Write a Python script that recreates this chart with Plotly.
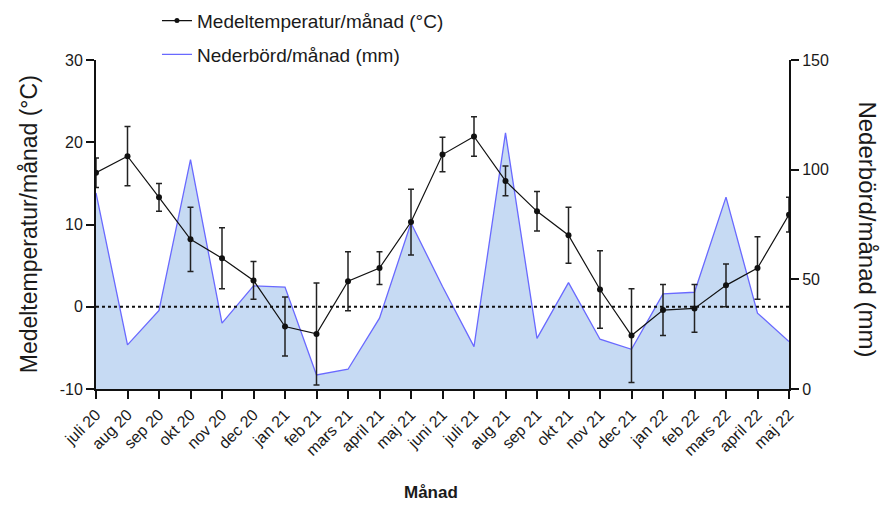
import plotly.graph_objects as go

months = ["juli 20", "aug 20", "sep 20", "okt 20", "nov 20", "dec 20", "jan 21", "feb 21",
          "mars 21", "april 21", "maj 21", "juni 21", "juli 21", "aug 21", "sep 21", "okt 21",
          "nov 21", "dec 21", "jan 22", "feb 22", "mars 22", "april 22", "maj 22"]

temp_mean = [16.3, 18.3, 13.3, 8.2, 5.9, 3.2, -2.4, -3.3,
             3.1, 4.7, 10.3, 18.5, 20.7, 15.3, 11.6, 8.7,
             2.1, -3.5, -0.4, -0.2, 2.6, 4.7, 11.2]

temp_err = [1.8, 3.6, 1.7, 3.9, 3.7, 2.3, 3.6, 6.2,
            3.6, 2.0, 4.0, 2.1, 2.4, 1.8, 2.4, 3.4,
            4.7, 5.7, 3.1, 2.9, 2.6, 3.8, 2.1]

precip = [89.4, 20.1, 35.8, 104.6, 30.0, 47.0, 46.5, 6.4,
          9.0, 32.3, 75.7, 46.7, 19.3, 116.8, 23.1, 48.5,
          22.7, 18.1, 43.4, 44.1, 87.5, 34.6, 21.6]

temp_ticks = [-10, 0, 10, 20, 30]
precip_ticks = [0, 50, 100, 150]

FONT = "Liberation Sans, Arial, sans-serif"
TXT = "#1a1a1a"

fig = go.Figure()

# precipitation area (primary y, right side) - drawn below
fig.add_trace(go.Scatter(
    x=months, y=precip, yaxis="y", mode="lines",
    line=dict(color="rgb(105,105,255)", width=1.3),
    fill="tozeroy", fillcolor="rgb(198,218,243)",
    showlegend=False, hoverinfo="skip",
))

# temperature line (overlay y2, left side) - drawn on top
fig.add_trace(go.Scatter(
    x=months, y=temp_mean, yaxis="y2", mode="lines+markers",
    line=dict(color="#111111", width=1.2),
    marker=dict(color="#111111", size=6),
    error_y=dict(type="data", array=temp_err, visible=True,
                 color="#222222", thickness=1.5, width=3),
    showlegend=False,
))

# legend entries
fig.add_trace(go.Scatter(
    x=[None], y=[None], yaxis="y2", mode="lines+markers",
    line=dict(color="#111111", width=1.2), marker=dict(color="#111111", size=5),
    name="Medeltemperatur/månad (°C)", legendgroup="a",
))
fig.add_trace(go.Scatter(
    x=[None], y=[None], yaxis="y", mode="lines",
    line=dict(color="rgb(105,105,255)", width=1.3),
    name="Nederbörd/månad (mm)", legendgroup="b",
))

# dotted zero line for temperature
fig.add_shape(type="line", xref="paper", x0=0, x1=1, yref="y2", y0=0, y1=0,
              line=dict(color="#111111", width=2, dash="dot"), layer="above")

axis_common = dict(showline=True, linecolor="#111111", linewidth=2,
                   ticks="outside", ticklen=8, tickwidth=2, tickcolor="#111111",
                   showgrid=False, zeroline=False, automargin=False,
                   tickfont=dict(family=FONT, size=16, color=TXT))

fig.update_layout(
    width=882, height=498,
    margin=dict(l=88, r=101, t=52, b=117, autoexpand=False),
    paper_bgcolor="white", plot_bgcolor="white",
    font=dict(family=FONT, color=TXT),
    xaxis=dict(type="category", categoryorder="array", categoryarray=months,
               range=[0, len(months) - 1], tickangle=-45, **axis_common),
    yaxis=dict(side="right", range=[0, 150], tickvals=precip_ticks,
               ticktext=[str(v) for v in precip_ticks], **axis_common),
    yaxis2=dict(side="left", overlaying="y", range=[-10, 30], tickvals=temp_ticks,
                ticktext=[str(v) for v in temp_ticks], **axis_common),
    legend=dict(x=0.088, y=1.177, xanchor="left", yanchor="top",
                font=dict(family=FONT, size=19, color=TXT),
                traceorder="grouped", tracegroupgap=6, bgcolor="rgba(0,0,0,0)"),
    showlegend=True,
    annotations=[
        dict(text="Medeltemperatur/månad (°C)", textangle=-90, xref="paper", yref="paper",
             x=-0.097, y=0.5, xanchor="center", yanchor="middle", showarrow=False,
             font=dict(family=FONT, size=23, color=TXT)),
        dict(text="Nederbörd/månad (mm)", textangle=90, xref="paper", yref="paper",
             x=1.114, y=0.485, xanchor="center", yanchor="middle", showarrow=False,
             font=dict(family=FONT, size=24, color=TXT)),
        dict(text="<b>Månad</b>", xref="paper", yref="paper",
             x=0.483, y=-0.316, xanchor="center", yanchor="middle", showarrow=False,
             font=dict(family=FONT, size=17, color=TXT)),
    ],
)

fig.write_html("out.html")
